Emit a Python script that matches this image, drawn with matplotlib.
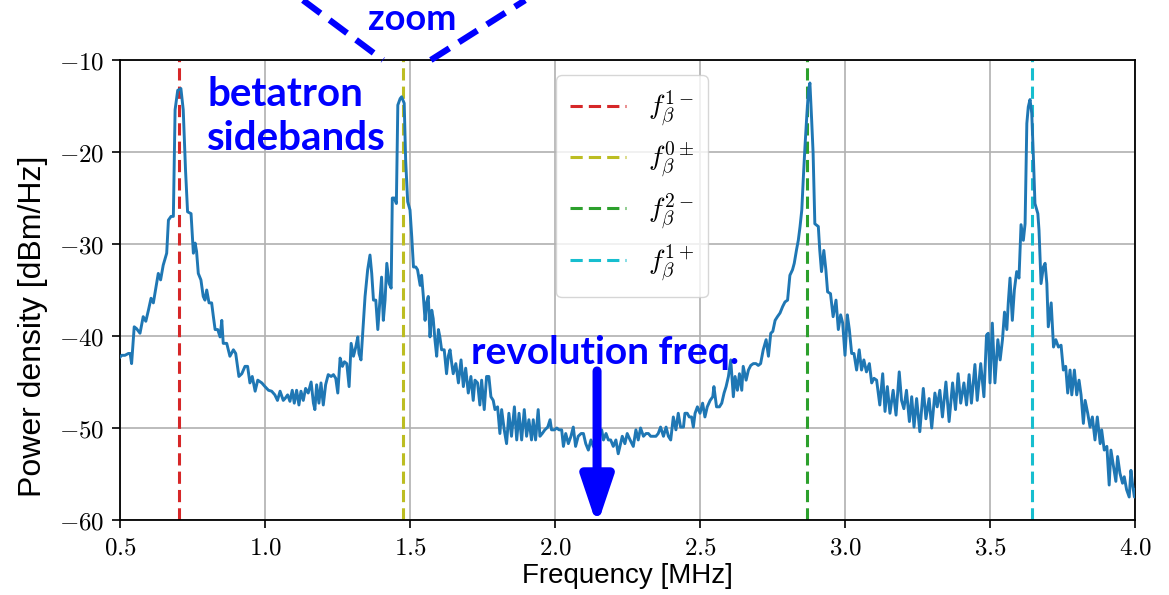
import numpy as np
import matplotlib.pyplot as plt

# --- Spectrum of the beam signal (frequency in MHz, PSD in dBm/Hz) ---
freq_mhz = [
    0.500, 0.506, 0.517, 0.529, 0.535, 0.540, 0.549, 0.557, 0.569, 0.580,
    0.589, 0.598, 0.607, 0.615, 0.626, 0.632, 0.640, 0.649, 0.661, 0.667,
    0.676, 0.684, 0.690, 0.699, 0.710, 0.718, 0.726, 0.733, 0.745, 0.753,
    0.759, 0.764, 0.770, 0.779, 0.787, 0.793, 0.799, 0.807, 0.816, 0.822,
    0.828, 0.837, 0.845, 0.851, 0.856, 0.868, 0.879, 0.891, 0.899, 0.910,
    0.920, 0.931, 0.940, 0.948, 0.956, 0.966, 0.975, 0.989, 1.000, 1.012,
    1.023, 1.034, 1.043, 1.052, 1.063,
    1.069, 1.078, 1.086, 1.094, 1.101, 1.109, 1.117, 1.124, 1.132, 1.140,
    1.149, 1.159, 1.167, 1.172, 1.178, 1.186, 1.193, 1.201, 1.209, 1.218,
    1.228, 1.236, 1.244, 1.251, 1.259, 1.267, 1.274, 1.282, 1.290, 1.297,
    1.305, 1.313, 1.320, 1.324, 1.331, 1.336, 1.345, 1.354, 1.362, 1.368,
    1.374, 1.382, 1.389, 1.397, 1.402, 1.408, 1.414, 1.420, 1.428, 1.435,
    1.439, 1.446, 1.453, 1.458, 1.466, 1.471, 1.480, 1.485, 1.492, 1.500,
    1.506, 1.512, 1.520, 1.526, 1.535, 1.540, 1.546, 1.552, 1.557, 1.563,
    1.569, 1.575, 1.580, 1.586, 1.592, 1.598, 1.603, 1.609, 1.618, 1.626,
    1.632, 1.638, 1.644, 1.649, 1.658, 1.667,
    1.676, 1.684, 1.692, 1.701, 1.710, 1.718, 1.724, 1.733, 1.741, 1.747,
    1.756, 1.764, 1.772, 1.779, 1.787, 1.793, 1.802, 1.810, 1.816, 1.825,
    1.833, 1.841, 1.850, 1.860, 1.868, 1.876, 1.885, 1.894, 1.902, 1.910,
    1.919, 1.925, 1.933, 1.942, 1.948, 1.956, 1.965, 1.975, 1.983, 1.988,
    1.998, 2.006, 2.014, 2.023, 2.029, 2.037, 2.046, 2.055, 2.063, 2.071,
    2.080, 2.090, 2.098, 2.106, 2.115, 2.124, 2.132,
    2.144, 2.153, 2.161, 2.167, 2.176, 2.184, 2.192, 2.201, 2.210, 2.218,
    2.224, 2.232, 2.241, 2.249, 2.259, 2.270, 2.279, 2.287, 2.295, 2.305,
    2.314, 2.322, 2.330, 2.339, 2.348, 2.356, 2.364, 2.374, 2.383, 2.391,
    2.399, 2.408, 2.417, 2.425, 2.433, 2.443, 2.448, 2.456, 2.463, 2.471,
    2.477, 2.483, 2.491, 2.500, 2.509, 2.517, 2.525, 2.535, 2.544, 2.548,
    2.557, 2.567, 2.575, 2.583, 2.590, 2.598, 2.606, 2.615, 2.621, 2.629,
    2.636, 2.644, 2.649, 2.659, 2.667, 2.675, 2.684, 2.693, 2.701, 2.709,
    2.718, 2.728, 2.736, 2.744, 2.751, 2.759, 2.767, 2.776, 2.785, 2.793,
    2.802, 2.810, 2.819, 2.825, 2.833, 2.839, 2.845, 2.851, 2.856, 2.862,
    2.868, 2.874, 2.879,
    2.885, 2.890, 2.896, 2.908, 2.913, 2.919, 2.927, 2.934, 2.940, 2.950,
    2.959, 2.969, 2.977, 2.985, 2.992, 3.000, 3.008, 3.015, 3.023, 3.031,
    3.040, 3.049, 3.057, 3.065, 3.074, 3.084, 3.092, 3.100, 3.109, 3.120,
    3.130, 3.138, 3.146, 3.155, 3.166, 3.176, 3.187, 3.195, 3.203, 3.212,
    3.222, 3.230, 3.238, 3.247, 3.258, 3.270, 3.279, 3.290, 3.299, 3.310,
    3.318, 3.327, 3.336, 3.348, 3.359, 3.371, 3.381, 3.390, 3.399, 3.410,
    3.419, 3.428, 3.436, 3.448, 3.456, 3.468, 3.479, 3.488,
    3.494, 3.500, 3.508, 3.517, 3.527, 3.535, 3.543, 3.550, 3.558, 3.563,
    3.569, 3.577, 3.584, 3.592, 3.600, 3.607, 3.615, 3.621, 3.627, 3.632,
    3.638, 3.644, 3.650, 3.655, 3.665, 3.669, 3.676, 3.684, 3.690, 3.696,
    3.701, 3.711, 3.719, 3.727, 3.736, 3.745, 3.753, 3.761, 3.768, 3.776,
    3.782, 3.791, 3.799, 3.807, 3.814, 3.822, 3.828, 3.837, 3.845, 3.853,
    3.862, 3.870, 3.880, 3.885, 3.894, 3.903, 3.911, 3.917, 3.926, 3.934,
    3.940, 3.948, 3.957, 3.963, 3.971, 3.980, 3.986, 3.991, 3.998, 4.002,
]
psd_dbm = [
    -42.3, -42.1, -42.1, -41.9, -41.9, -43.0, -39.0, -39.2, -39.7, -37.9,
    -38.4, -37.2, -35.9, -36.4, -34.3, -33.2, -33.9, -32.3, -31.0, -27.4,
    -27.0, -27.0, -15.4, -13.3, -13.1, -15.4, -22.0, -26.5, -26.7, -31.0,
    -29.9, -30.8, -33.2, -33.9, -35.7, -36.1, -35.0, -36.4, -36.4, -37.9,
    -39.3, -39.3, -40.1, -38.3, -40.8, -40.8, -42.2, -41.5, -41.9, -44.4,
    -44.1, -43.3, -43.3, -45.1, -44.4, -46.0, -44.8, -45.1, -45.5, -45.9,
    -46.0, -46.4, -47.0, -46.0, -47.0,
    -46.8, -46.4, -47.1, -45.9, -47.3, -45.9, -47.5, -46.0, -47.0, -45.7,
    -46.2, -45.0, -47.3, -48.0, -45.3, -47.3, -45.1, -47.5, -45.3, -44.2,
    -44.4, -44.2, -44.6, -46.2, -42.4, -43.3, -42.8, -43.0, -45.5, -40.8,
    -42.2, -41.2, -40.1, -41.9, -42.6, -40.1, -35.7, -32.8, -31.2, -33.2,
    -36.1, -36.1, -39.3, -35.7, -33.6, -38.3, -36.1, -32.1, -34.3, -34.8,
    -25.0, -25.0, -25.6, -14.9, -14.2, -14.0, -14.7, -20.9, -25.4, -26.3,
    -29.2, -32.5, -32.5, -32.8, -34.5, -33.4, -35.7, -38.3, -36.4, -35.7,
    -40.1, -37.2, -38.1, -40.4, -42.2, -39.3, -40.1, -41.5, -41.5, -44.1,
    -42.2, -41.5, -43.0, -44.1, -43.0, -45.1,
    -42.6, -45.5, -43.5, -46.2, -44.4, -47.0, -44.8, -45.1, -47.5, -44.8,
    -48.0, -44.4, -44.4, -46.6, -47.0, -48.0, -47.7, -50.6, -48.0, -50.2,
    -51.7, -48.4, -50.9, -47.7, -51.3, -48.4, -51.3, -48.0, -50.9, -49.1,
    -51.3, -49.1, -51.3, -48.0, -50.9, -50.6, -50.2, -49.9, -49.1, -50.2,
    -50.2, -50.0, -50.2, -50.2, -52.0, -50.6, -51.7, -50.9, -49.9, -52.0,
    -50.9, -50.6, -50.6, -51.7, -52.4, -51.3, -52.0,
    -50.9, -50.6, -50.2, -51.3, -50.6, -51.3, -51.3, -52.0, -51.3, -52.8,
    -52.0, -50.9, -51.7, -50.6, -51.3, -52.0, -50.2, -51.3, -50.0, -50.9,
    -50.6, -50.6, -50.9, -50.9, -50.9, -50.6, -49.9, -50.9, -49.9, -50.9,
    -51.3, -48.8, -50.2, -48.4, -49.9, -49.9, -48.4, -48.4, -48.8, -48.8,
    -49.9, -48.4, -47.7, -48.4, -47.3, -48.8, -47.7, -47.0, -46.6, -45.5,
    -47.7, -47.7, -47.3, -46.2, -45.5, -44.4, -42.6, -46.6, -44.4, -45.9,
    -44.1, -45.9, -43.3, -44.8, -43.7, -43.2, -43.0, -43.0, -43.2, -43.0,
    -41.5, -40.4, -42.2, -39.7, -39.5, -38.3, -37.9, -37.5, -36.8, -36.3,
    -36.1, -33.4, -32.8, -32.1, -30.6, -29.6, -28.1, -26.3, -23.0, -19.4,
    -16.2, -13.3, -12.5,
    -16.5, -20.1, -27.8, -28.1, -30.7, -33.0, -30.7, -32.8, -35.2, -35.4,
    -37.9, -36.1, -39.3, -37.7, -38.6, -42.1, -37.7, -39.3, -41.9, -41.9,
    -43.7, -41.5, -43.7, -42.6, -43.9, -43.0, -45.1, -44.6, -44.8, -47.5,
    -44.1, -48.2, -45.5, -48.4, -45.9, -48.6, -43.9, -47.0, -47.9, -45.9,
    -49.3, -46.6, -49.9, -46.8, -50.4, -45.7, -49.0, -46.8, -50.0, -46.2,
    -47.7, -45.9, -48.8, -45.0, -49.3, -45.1, -48.0, -44.1, -47.3, -45.1,
    -47.5, -44.2, -47.3, -43.1, -47.0, -43.0, -46.6, -39.9,
    -39.7, -45.1, -38.6, -45.1, -40.4, -42.6, -40.4, -37.4, -39.3, -36.4,
    -33.7, -38.3, -35.0, -33.0, -33.7, -27.9, -29.6, -27.8, -16.9, -15.1,
    -14.3, -15.8, -20.9, -25.6, -26.7, -28.5, -34.3, -32.5, -32.1, -34.3,
    -39.0, -36.4, -41.2, -40.4, -41.2, -41.0, -43.7, -43.3, -46.2, -43.7,
    -46.4, -43.7, -46.4, -44.8, -46.4, -49.5, -47.0, -48.4, -49.9, -48.8,
    -51.3, -48.8, -51.7, -50.2, -52.4, -52.0, -56.2, -52.4, -54.2, -55.8,
    -53.1, -54.9, -56.0, -55.3, -56.7, -57.5, -54.6, -56.0, -57.5, -56.7,
]

# Betatron sideband frequencies (MHz)
sideband_freqs = [0.703, 1.476, 2.869, 3.645]
sideband_labels = [r'$f_\beta^{1-}$', r'$f_\beta^{0\pm}$',
                   r'$f_\beta^{2-}$', r'$f_\beta^{1+}$']
sideband_colors = ['tab:red', 'tab:olive', 'tab:green', 'tab:cyan']

# Revolution frequency marker (MHz)
f_rev = 2.145

plt.rcParams['mathtext.fontset'] = 'cm'

W, H = 1169, 595
fig = plt.figure(figsize=(W / 100, H / 100), dpi=100)
ax = fig.add_axes([120 / W, 1 - 520 / H, 1015 / W, 460 / H])

ax.plot(freq_mhz, psd_dbm, color='tab:blue', linewidth=2.1, zorder=3)

for f, lab, c in zip(sideband_freqs, sideband_labels, sideband_colors):
    ax.axvline(f, color=c, linestyle=(0, (4, 2)), linewidth=2.2,
               label=lab, zorder=2)

ax.set_xlim(0.5, 4.0)
ax.set_ylim(-60, -10)
ax.set_xticks(np.arange(0.5, 4.01, 0.5))
ax.set_yticks(np.arange(-60, -9, 10))
ax.set_xticklabels([r'$%.1f$' % v for v in np.arange(0.5, 4.01, 0.5)])
ax.set_yticklabels([r'$%d$' % v for v in np.arange(-60, -9, 10)])
ax.tick_params(labelsize=18, width=1.2, length=6, pad=5)
for sp in ax.spines.values():
    sp.set_linewidth(1.3)
ax.grid(True, color='#b0b0b0', linewidth=1.2)
ax.set_axisbelow(True)

ax.set_xlabel('Frequency [MHz]', fontsize=20, family='Liberation Sans',
              labelpad=3)
ax.set_ylabel('Power density [dBm/Hz]', fontsize=23, family='Liberation Sans')
ax.yaxis.set_label_coords(-0.071, 0.42)

leg = ax.legend(loc='upper left', bbox_to_anchor=(0.43, 0.967),
                borderaxespad=0, fontsize=20, handlelength=2.0,
                labelspacing=0.4, handletextpad=0.8, borderpad=0.5,
                framealpha=0.8, fancybox=True)

# Callouts in blue
blue = '#0000ff'
fig.text(207 / W, 1 - 76 / H, 'betatron\nsidebands', color=blue,
         fontsize=29, fontweight='bold', family='Lato', va='top',
         ha='left', linespacing=1.22)
fig.text(412 / W, 1 - 20 / H, 'zoom', color=blue, fontsize=26,
         fontweight='bold', family='Lato', va='center', ha='center')
fig.text(605 / W, 1 - 352 / H, 'revolution freq.', color=blue,
         fontsize=28, fontweight='bold', family='Lato', va='center',
         ha='center', zorder=5)

# Dashed guide lines leading up out of the axes
ax.plot([1.131, 1.407], [-3.5, -10], color=blue, linewidth=4.5,
        linestyle=(0, (3.5, 1.8)), clip_on=False, zorder=6)
ax.plot([1.572, 1.897], [-10, -3.5], color=blue, linewidth=4.5,
        linestyle=(0, (3.5, 1.8)), clip_on=False, zorder=6)

# Arrow pointing at the revolution frequency
ax.annotate('', xy=(f_rev, -60.6), xytext=(f_rev, -43.8),
            arrowprops=dict(arrowstyle='-|>,head_width=0.32,head_length=0.95',
                            mutation_scale=30, color=blue, linewidth=6.5,
                            shrinkA=0, shrinkB=0, clip_on=False),
            zorder=6, annotation_clip=False)

fig.savefig('out.png', dpi=100)
